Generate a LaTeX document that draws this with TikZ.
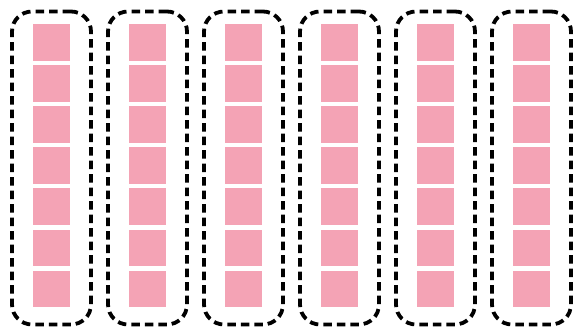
\documentclass[tikz,border=0pt]{standalone}
\definecolor{cellpink}{RGB}{244,163,181}
\tikzset{
  cell/.style={fill=cellpink, minimum size=36.5pt, inner sep=0pt, outer sep=0pt},
  column/.style={draw=black, line width=3.8pt, dash pattern=on 8.5pt off 5pt,
    rounded corners=20pt, minimum width=79pt, minimum height=313pt, inner sep=0pt},
}
\begin{document}
\begin{tikzpicture}[x=1pt,y=-1pt]
        \useasboundingbox (0,0) rectangle (584,328);
        % columns of cells
        \foreach \c in {0,1,2,3,4,5}{
          \foreach \r in {0,1,2,3,4,5,6}{
            \node[cell] (cell\c\r) at (51.5+96*\c, 42.3+41.1*\r) {};
          }
          % dashed frame around each column
          \node[column] (col\c) at (51.5+96*\c, 168) {};
        }
    \end{tikzpicture}
\end{document}
